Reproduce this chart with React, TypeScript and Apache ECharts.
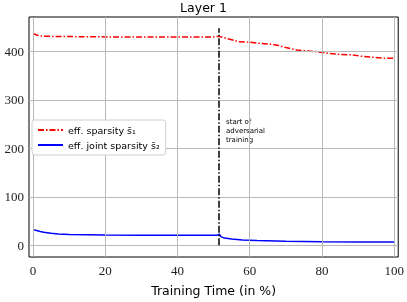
import React, { useEffect, useRef } from "react";
import * as echarts from "echarts";

const xTicks = [0, 20, 40, 60, 80, 100];
const yTicks = [0, 100, 200, 300, 400];

const redX = [0, 1, 2, 3, 5, 8, 12, 20, 30, 40, 50, 51.5, 53, 55, 57, 60, 63, 66, 68, 70, 73, 76, 79, 82, 85, 88, 91, 94, 97, 100];
const redY = [437, 434, 432, 431.5, 431, 431, 430.5, 430, 430, 430, 430, 431, 428, 424, 420, 419, 416.5, 415, 412, 408, 403, 401, 399, 396, 394, 393, 390, 388, 386, 386];

const blueX = [0, 1, 2, 3, 4, 5, 7, 10, 15, 20, 30, 40, 51, 51.6, 52, 53, 55, 58, 62, 70, 80, 90, 100];
const blueY = [32.5, 30.5, 28.5, 27, 26, 25, 23.5, 22.5, 22, 21.5, 21, 21, 21, 23, 18, 15, 13, 11, 10, 8.5, 7.5, 7, 7];

const advStart = 51.5;
const vLineTop = 448;

const xMin = -1.1;
const xMax = 101.1;
const yMin = -24;
const yMax = 471;

const redName = "eff. sparsity s̄₁";
const blueName = "eff. joint sparsity s̄₂";

export default function App() {
  const ref = useRef<HTMLDivElement>(null);
  useEffect(() => {
    const chart = echarts.init(ref.current!, null, { renderer: "svg" });
    const tickFont = { fontFamily: "Liberation Serif", fontSize: 13, color: "#222" };
    const gridLines = [
      ...xTicks.map((v) => [{ coord: [v, yMin] }, { coord: [v, yMax] }]),
      ...yTicks.map((v) => [{ coord: [xMin, v] }, { coord: [xMax, v] }]),
    ];
    const redData = redX.map((x, i) => [x, redY[i]]);
    chart.setOption({
      animation: false,
      title: {
        text: "Layer 1",
        left: "center",
        top: 1,
        padding: 0,
        textStyle: { fontFamily: "DejaVu Sans", fontSize: 12.5, fontWeight: "normal", color: "#000" },
      },
      grid: {
        left: 29,
        right: 7,
        top: 17,
        bottom: 40,
        show: true,
        borderColor: "#000",
        borderWidth: 1,
      },
      xAxis: {
        type: "value",
        min: xMin,
        max: xMax,
        name: "Training Time (in %)",
        nameLocation: "middle",
        nameGap: 27,
        nameTextStyle: { fontFamily: "DejaVu Sans", fontSize: 12.5, color: "#000" },
        axisLine: { show: true, lineStyle: { color: "#000" } },
        axisTick: { show: true, customValues: xTicks, length: 3, lineStyle: { color: "#000" } },
        axisLabel: { customValues: xTicks, margin: 7, ...tickFont },
        splitLine: { show: false },
      },
      yAxis: {
        type: "value",
        min: yMin,
        max: yMax,
        axisLine: { show: true, lineStyle: { color: "#000" } },
        axisTick: { show: true, customValues: yTicks, length: 3, lineStyle: { color: "#000" } },
        axisLabel: { customValues: yTicks, margin: 5, ...tickFont },
        splitLine: { show: false },
      },
      legend: {
        left: 32,
        top: 120,
        z: 10,
        orient: "vertical",
        itemWidth: 25,
        itemHeight: 8,
        itemGap: 5,
        padding: [5, 6, 5, 5],
        borderColor: "#d0d0d0",
        borderWidth: 1,
        borderRadius: 3,
        backgroundColor: "rgba(255,255,255,0.95)",
        itemStyle: { opacity: 0 },
        textStyle: { fontFamily: "DejaVu Sans", fontSize: 9.5, color: "#000" },
        data: [redName, blueName],
      },
      graphic: [
        {
          type: "text",
          left: 226,
          top: 117,
          style: {
            text: "start of\nadversarial\ntraining",
            fontFamily: "DejaVu Sans",
            fontSize: 7,
            lineHeight: 9,
            fill: "#000",
          },
        },
      ],
      series: [
        {
          name: "grid",
          type: "line",
          data: redData,
          showSymbol: false,
          symbol: "none",
          silent: true,
          lineStyle: { width: 0, color: "rgba(0,0,0,0)" },
          z: 1,
          markLine: {
            silent: true,
            symbol: ["none", "none"],
            label: { show: false },
            lineStyle: { color: "#b8b8b8", width: 1, type: "solid", opacity: 1 },
            data: gridLines,
          },
        },
        {
          name: redName,
          type: "line",
          showSymbol: false,
          symbol: "none",
          data: redData,
          lineStyle: { color: "#ff0000", width: 1.5, type: [6, 2, 1.5, 2] },
          itemStyle: { color: "#ff0000" },
          z: 3,
        },
        {
          name: blueName,
          type: "line",
          showSymbol: false,
          symbol: "none",
          data: blueX.map((x, i) => [x, blueY[i]]),
          lineStyle: { color: "#0000ff", width: 1.5 },
          itemStyle: { color: "#0000ff" },
          z: 3,
          markLine: {
            silent: true,
            symbol: ["none", "none"],
            label: { show: false },
            lineStyle: { color: "#000", width: 1.5, type: [7, 2, 1.5, 2] },
            data: [[{ coord: [advStart, 0] }, { coord: [advStart, vLineTop] }]],
          },
        },
      ],
    });
    return () => chart.dispose();
  }, []);
  return <div ref={ref} style={{ position: "fixed", left: 0, top: 0, width: 407, height: 302 }} />;
}
